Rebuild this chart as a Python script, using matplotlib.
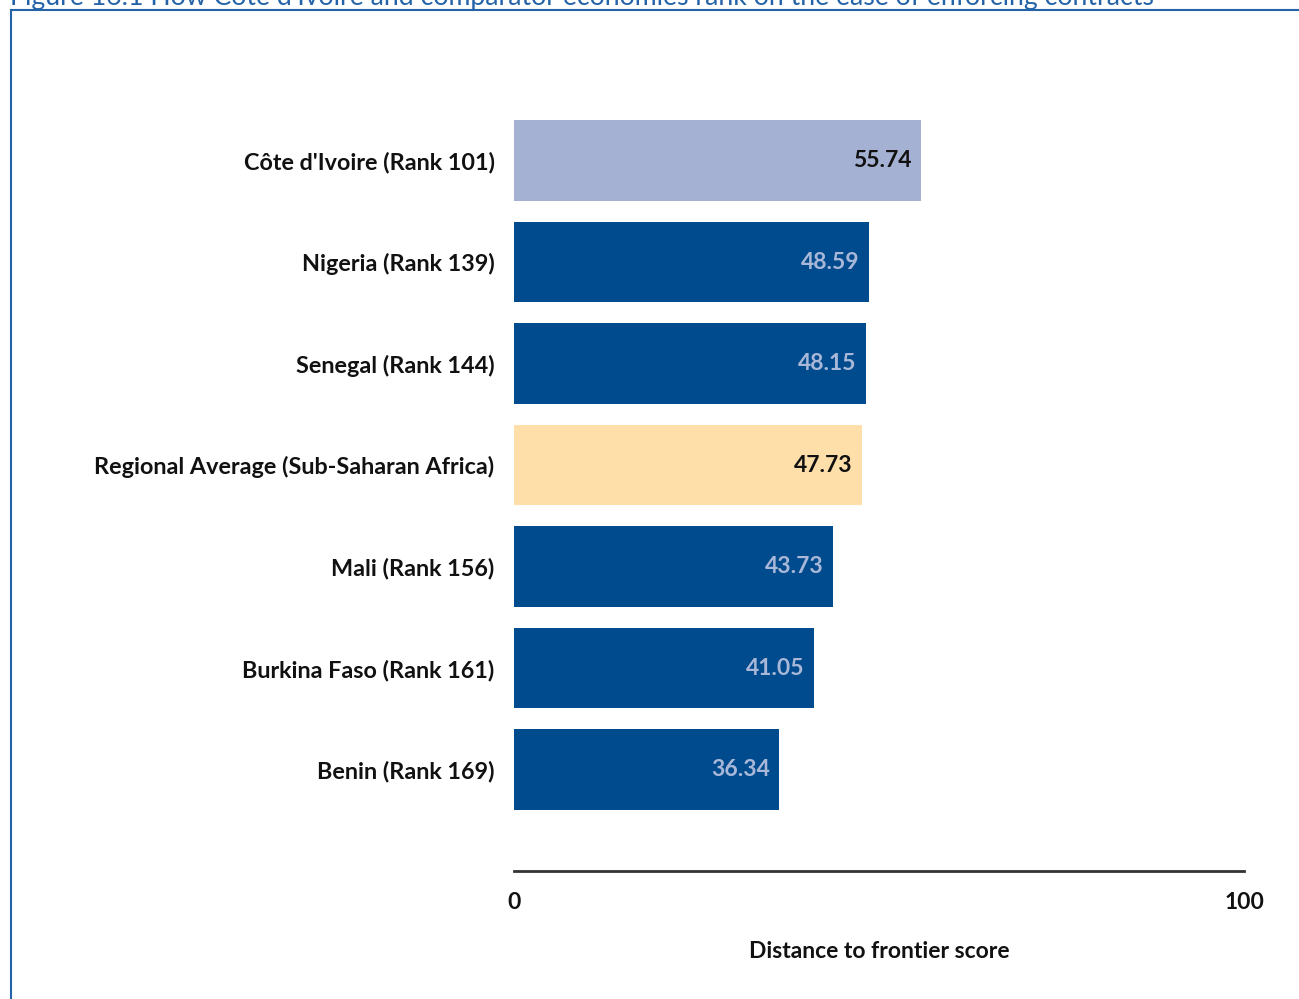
import matplotlib.pyplot as plt
from matplotlib.lines import Line2D

# Data
economies = ['Côte d\'Ivoire (Rank 101)', 'Nigeria (Rank 139)', 'Senegal (Rank 144)',
             'Regional Average (Sub-Saharan Africa)', 'Mali (Rank 156)',
             'Burkina Faso (Rank 161)', 'Benin (Rank 169)']
scores = [55.74, 48.59, 48.15, 47.73, 43.73, 41.05, 36.34]
bar_colors = ['#A5B1D3', '#004B8D', '#004B8D', '#FFDFA9', '#004B8D', '#004B8D', '#004B8D']
value_colors = ['#111111', '#A9B8D8', '#A9B8D8', '#111111', '#A9B8D8', '#A9B8D8', '#A9B8D8']

plt.rcParams['font.family'] = ['Lato', 'DejaVu Sans']

fig = plt.figure(figsize=(12.99, 9.99), dpi=100)
ax = fig.add_axes([0.3957, 0.1281, 0.5620, 0.8144])

n = len(economies)
ypos = list(range(n - 1, -1, -1))
ax.barh(ypos, scores, height=0.79, color=bar_colors, edgecolor='none')

for y, v, c in zip(ypos, scores, value_colors):
    ax.text(v - 1.3, y, f'{v:.2f}', ha='right', va='center', fontsize=16.5,
            fontweight='bold', color=c)

ax.set_xlim(0, 100)
ax.set_ylim(-1, 7.016)
ax.set_yticks(ypos)
ax.set_yticklabels(economies, fontsize=16.8, fontweight='bold', color='#111111')
ax.tick_params(axis='y', length=0, pad=14)
ax.set_xticks([0, 100])
ax.set_xticklabels(['0', '100'], fontsize=16.5, fontweight='bold', color='#111111')
ax.tick_params(axis='x', length=0, pad=15)
ax.set_xlabel('Distance to frontier score', fontsize=16.5, fontweight='bold',
              color='#111111', labelpad=20)

for s in ['top', 'right', 'left']:
    ax.spines[s].set_visible(False)
ax.spines['bottom'].set_color('#333333')
ax.spines['bottom'].set_linewidth(2)

# Frame and cut-off figure caption
frame = '#2463A8'
fig.add_artist(Line2D([0.0085, 1.0], [0.990, 0.990], color=frame, lw=1.5,
                      transform=fig.transFigure))
fig.add_artist(Line2D([0.0085, 0.0085], [0.0, 0.990], color=frame, lw=1.5,
                      transform=fig.transFigure))
fig.text(0.008, 1.003, 'Figure 16.1 How Côte d\'Ivoire and comparator economies rank on the ease of enforcing contracts',
         fontsize=19.2, color=frame, ha='left', va='center')

fig.savefig('out.png', dpi=100)
